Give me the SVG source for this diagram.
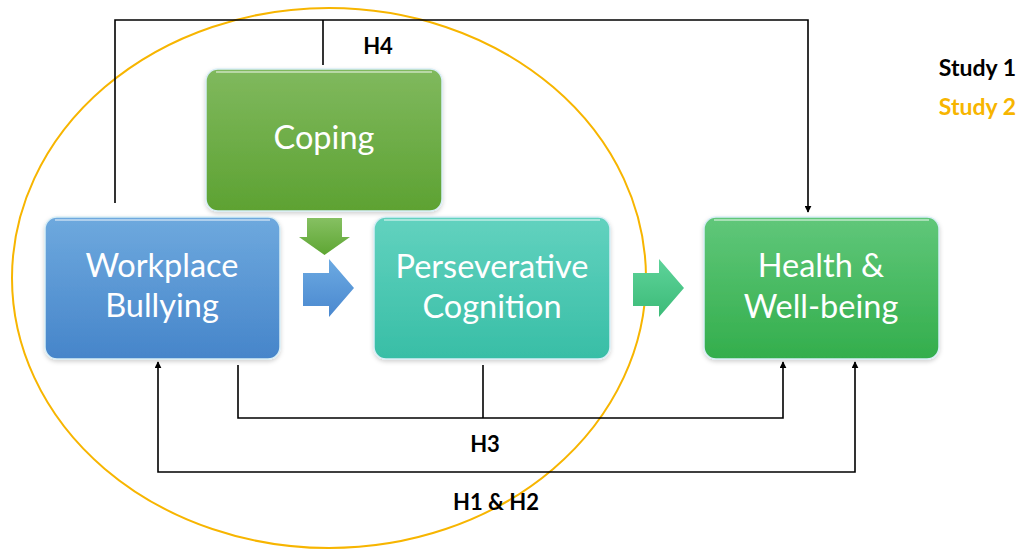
<svg xmlns="http://www.w3.org/2000/svg" width="1024" height="551" viewBox="0 0 1024 551">
  <defs>
    <linearGradient id="gBlue" x1="0" y1="0" x2="0" y2="1">
      <stop offset="0" stop-color="#6ea9de"/>
      <stop offset="1" stop-color="#4685ca"/>
    </linearGradient>
    <linearGradient id="gCoping" x1="0" y1="0" x2="0" y2="1">
      <stop offset="0" stop-color="#80b95e"/>
      <stop offset="1" stop-color="#5da232"/>
    </linearGradient>
    <linearGradient id="gTeal" x1="0" y1="0" x2="0" y2="1">
      <stop offset="0" stop-color="#62d2bf"/>
      <stop offset="1" stop-color="#38bea6"/>
    </linearGradient>
    <linearGradient id="gHealth" x1="0" y1="0" x2="0" y2="1">
      <stop offset="0" stop-color="#60c77a"/>
      <stop offset="1" stop-color="#33ae4c"/>
    </linearGradient>
    <linearGradient id="gArrowGreen" x1="0" y1="0" x2="0" y2="1">
      <stop offset="0" stop-color="#86c062"/>
      <stop offset="1" stop-color="#5ea633"/>
    </linearGradient>
    <linearGradient id="gArrowBlue" x1="0" y1="0" x2="0" y2="1">
      <stop offset="0" stop-color="#6caae2"/>
      <stop offset="1" stop-color="#4a88cf"/>
    </linearGradient>
    <linearGradient id="gArrowTeal" x1="0" y1="0" x2="0" y2="1">
      <stop offset="0" stop-color="#5ed39a"/>
      <stop offset="1" stop-color="#3cbb78"/>
    </linearGradient>
    <filter id="shadow" x="-10%" y="-10%" width="120%" height="130%">
      <feDropShadow dx="0" dy="2" stdDeviation="2" flood-color="#000" flood-opacity="0.18"/>
    </filter>
    <marker id="arrow" viewBox="0 0 10 10" refX="9" refY="5" markerWidth="7" markerHeight="7" orient="auto-start-reverse" markerUnits="userSpaceOnUse">
      <path d="M0,0 L10,5 L0,10 z" fill="#000"/>
    </marker>
    <style>
      .box { stroke: #d8eef6; stroke-width: 1.5; filter: url(#shadow); }
      .gloss { fill: none; stroke: #ffffff; stroke-opacity: 0.45; stroke-width: 2; }
      .label { font-family: Lato, "Open Sans", "Liberation Sans", sans-serif; font-size: 32.5px; fill: #ffffff; text-anchor: middle; }
      .hyp { font-family: Lato, "Liberation Sans", sans-serif; font-size: 22px; font-weight: bold; fill: #000; text-anchor: middle; }
      .legend { font-family: Lato, "Liberation Sans", sans-serif; font-size: 23px; font-weight: bold; text-anchor: end; }
      .conn { fill: none; stroke: #000; stroke-width: 1.6; }
    </style>
  </defs>

  <rect width="1024" height="551" fill="#ffffff"/>

  <!-- Study 2 boundary -->
  <ellipse cx="329" cy="278" rx="317" ry="270" fill="none" stroke="#f7b500" stroke-width="2"/>

  <!-- Connectors -->
  <g id="connectors">
    <!-- H4 -->
    <polyline class="conn" points="115,203 115,20 808,20 808,212" marker-end="url(#arrow)"/>
    <line class="conn" x1="323" y1="20" x2="323" y2="65"/>
    <!-- H3 -->
    <polyline class="conn" points="238,365 238,418 783,418 783,362" marker-end="url(#arrow)"/>
    <line class="conn" x1="483" y1="365" x2="483" y2="418"/>
    <!-- H1 & H2 -->
    <polyline class="conn" points="158,362 158,472 855,472 855,362" marker-start="url(#arrow)" marker-end="url(#arrow)"/>
  </g>

  <!-- Block arrows -->
  <g id="block-arrows">
    <path d="M307,218 H342 V237 H350 L324.5,255 L299,237 H307 Z" fill="url(#gArrowGreen)"/>
    <path d="M303,273 H329 V259 L354,288 L329,317 V306 H303 Z" fill="url(#gArrowBlue)"/>
    <path d="M633,273 H659 V259 L684,288 L659,317 V306 H633 Z" fill="url(#gArrowTeal)"/>
  </g>

  <g id="coping">
    <rect class="box" x="206" y="69" width="236" height="142" rx="12" fill="url(#gCoping)"/>
    <path class="gloss" d="M216,72 H432"/>
    <text class="label" x="324" y="149">Coping</text>
  </g>

  <g id="workplace-bullying">
    <rect class="box" x="45" y="217" width="235" height="142" rx="12" fill="url(#gBlue)"/>
    <path class="gloss" d="M55,220 H270"/>
    <text class="label" x="162" y="277">Workplace</text>
    <text class="label" x="162" y="317">Bullying</text>
  </g>

  <g id="perseverative-cognition">
    <rect class="box" x="374" y="217" width="236" height="142" rx="12" fill="url(#gTeal)"/>
    <path class="gloss" d="M384,220 H600"/>
    <text class="label" x="492" y="278">Perseverative</text>
    <text class="label" x="492" y="318">Cognition</text>
  </g>

  <g id="health-wellbeing">
    <rect class="box" x="704" y="217" width="235" height="142" rx="12" fill="url(#gHealth)"/>
    <path class="gloss" d="M714,220 H929"/>
    <text class="label" x="821" y="277">Health &amp;</text>
    <text class="label" x="821" y="318">Well-being</text>
  </g>

  <!-- Hypothesis labels -->
  <g id="labels">
    <text class="hyp" x="378" y="54">H4</text>
    <text class="hyp" x="485" y="452">H3</text>
    <text class="hyp" x="496" y="510">H1 &amp; H2</text>
  </g>

  <!-- Legend -->
  <g id="legend">
    <text class="legend" x="1016" y="76" fill="#000">Study 1</text>
    <text class="legend" x="1016" y="115" fill="#f7b500">Study 2</text>
  </g>
</svg>
